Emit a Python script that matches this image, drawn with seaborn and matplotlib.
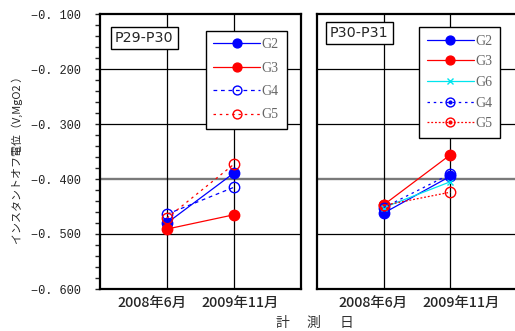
import matplotlib
matplotlib.use("Agg")
import matplotlib.pyplot as plt
from matplotlib.lines import Line2D
from matplotlib.ticker import MultipleLocator, FuncFormatter
from matplotlib.transforms import ScaledTranslation
import seaborn as sns

sns.set_style("white")
plt.rcParams["font.family"] = ["Noto Sans CJK JP", "DejaVu Sans"]

# measurement dates
dates = ["2008年6月", "2009年11月"]

# P29-P30 instant-off potentials (V, MgO2)
p29_g2 = [-0.480, -0.389]
p29_g3 = [-0.491, -0.465]
p29_g4 = [-0.464, -0.415]
p29_g5 = [-0.471, -0.373]

# P30-P31 instant-off potentials (V, MgO2)
p30_g2 = [-0.462, -0.395]
p30_g3 = [-0.447, -0.356]
p30_g6 = [-0.452, -0.405]
p30_g4 = [-0.452, -0.391]
p30_g5 = [-0.448, -0.424]

y_ticks = [-0.6, -0.5, -0.4, -0.3, -0.2, -0.1]

fig = plt.figure(figsize=(5.15, 3.31), dpi=100)
ax1 = fig.add_axes([100 / 515, 42 / 331, 201 / 515, 275 / 331])
ax2 = fig.add_axes([317 / 515, 42 / 331, 200 / 515, 275 / 331])

styles_left = [
    ("G2", p29_g2, dict(color="#0000ff", ls="-", marker="o", mfc="#0000ff", ms=7.5)),
    ("G3", p29_g3, dict(color="#ff0000", ls="-", marker="o", mfc="#ff0000", ms=7.5)),
    ("G4", p29_g4, dict(color="#0000ff", ls=(0, (3, 3)), marker="o", mfc="none", ms=7.5)),
    ("G5", p29_g5, dict(color="#ff0000", ls=(0, (2, 3)), marker="o", mfc="none", ms=7.5)),
]
styles_right = [
    ("G2", p30_g2, dict(color="#0000ff", ls="-", marker="o", mfc="#0000ff", ms=7.5)),
    ("G3", p30_g3, dict(color="#ff0000", ls="-", marker="o", mfc="#ff0000", ms=7.5)),
    ("G6", p30_g6, dict(color="#00e5ee", ls="-", marker="x", mfc="none", ms=5)),
    ("G4", p30_g4, dict(color="#0000ff", ls=(0, (2, 3)), marker="o", mfc="none", ms=7.5)),
    ("G5", p30_g5, dict(color="#ff0000", ls=(0, (1.5, 1.5)), marker="o", mfc="none", ms=7.5)),
]


def draw(ax, styles, label_shift):
    for name, vals, st in styles:
        sns.lineplot(x=dates, y=vals, ax=ax, color=st["color"], linestyle=st["ls"],
                     marker=st["marker"], markerfacecolor=st["mfc"],
                     markeredgecolor=st["color"], markersize=st["ms"],
                     markeredgewidth=1.0, linewidth=0.9, legend=False, zorder=4)
    ax.set_xlim(-1, 2)
    ax.set_ylim(-0.6, -0.1)
    ax.set_xlabel("")
    ax.set_ylabel("")
    ax.set_yticks(y_ticks)
    for v in y_ticks[1:-1]:
        if abs(v + 0.4) < 1e-9:
            ax.axhline(v, color="#7a7a7a", lw=1.7, zorder=1)
        else:
            ax.axhline(v, color="black", lw=0.9, zorder=1)
    for i in range(len(dates)):
        ax.axvline(i, color="black", lw=0.9, zorder=1)
    for s in ax.spines.values():
        s.set_linewidth(1.6)
        s.set_color("black")
    ax.tick_params(axis="x", length=0, pad=5, labelsize=10.3)
    # spread the two date labels apart a little
    for t, dx in zip(ax.get_xticklabels(), label_shift):
        t.set_fontweight("medium")
        t.set_transform(t.get_transform() + ScaledTranslation(dx / 100, 0, fig.dpi_scale_trans))


draw(ax1, styles_left, (-15, 6))
draw(ax2, styles_right, (-11, 11))

ax1.yaxis.set_minor_locator(MultipleLocator(0.02))
ax1.yaxis.set_major_formatter(FuncFormatter(lambda v, p: f"−0. {int(round(-v * 1000)):03d}"))
ax1.tick_params(axis="y", which="major", direction="out", length=3.5, width=1, pad=10.5,
                labelsize=8.6, left=True)
ax1.tick_params(axis="y", which="minor", direction="out", length=3.5, width=1, left=True)
for t in ax1.get_yticklabels():
    t.set_family(["Liberation Mono", "DejaVu Sans Mono"])
    t.set_color("#222222")
ax2.tick_params(axis="y", left=False, labelleft=False)

# section labels
for ax, txt, pos in [(ax1, "P29-P30", (0.075, 0.912)), (ax2, "P30-P31", (0.065, 0.93))]:
    ax.text(pos[0], pos[1], txt, transform=ax.transAxes, fontsize=10.3, va="center",
            ha="left", family=["DejaVu Sans"], zorder=6,
            bbox=dict(boxstyle="square,pad=0.28", fc="white", ec="black", lw=1))


def legend_handles(styles, dotted_center=False):
    handles = []
    for name, vals, st in styles:
        h = Line2D([], [], color=st["color"], ls=st["ls"], marker=st["marker"],
                   mfc=st["mfc"], mec=st["color"], ms=st["ms"] * 0.85, lw=0.9)
        if dotted_center and st["mfc"] == "none" and st["marker"] == "o":
            dot = Line2D([], [], ls="none", marker="o", color=st["color"], ms=2)
            handles.append((h, dot))
        else:
            handles.append(h)
    return handles


for ax, styles, anchor, sp, dc in [
    (ax1, styles_left, (0.963, 0.965), 0.75, False),
    (ax2, styles_right, (0.95, 0.978), 0.55, True),
]:
    leg = ax.legend(legend_handles(styles, dc), [s[0] for s in styles],
                    loc="upper right", bbox_to_anchor=anchor, frameon=True,
                    fancybox=False, framealpha=1, edgecolor="black", handlelength=3.4,
                    labelspacing=sp, borderpad=0.55, handletextpad=0.1,
                    prop=dict(family=["Liberation Serif", "DejaVu Serif"], size=10))
    leg.get_frame().set_linewidth(1)
    leg.set_zorder(7)
    for t in leg.get_texts():
        t.set_color("#666666")

fig.text(17 / 515, (331 - 157) / 331, "インスタントオフ電位（V,MgO2 ）", rotation=90,
         ha="center", va="center", fontsize=7.9)
for ch, x in [("計", 282), ("測", 313), ("日", 346)]:
    fig.text(x / 515, 8 / 331, ch, ha="center", va="center", fontsize=10, color="#333333")

fig.savefig("out.png", dpi=100)
